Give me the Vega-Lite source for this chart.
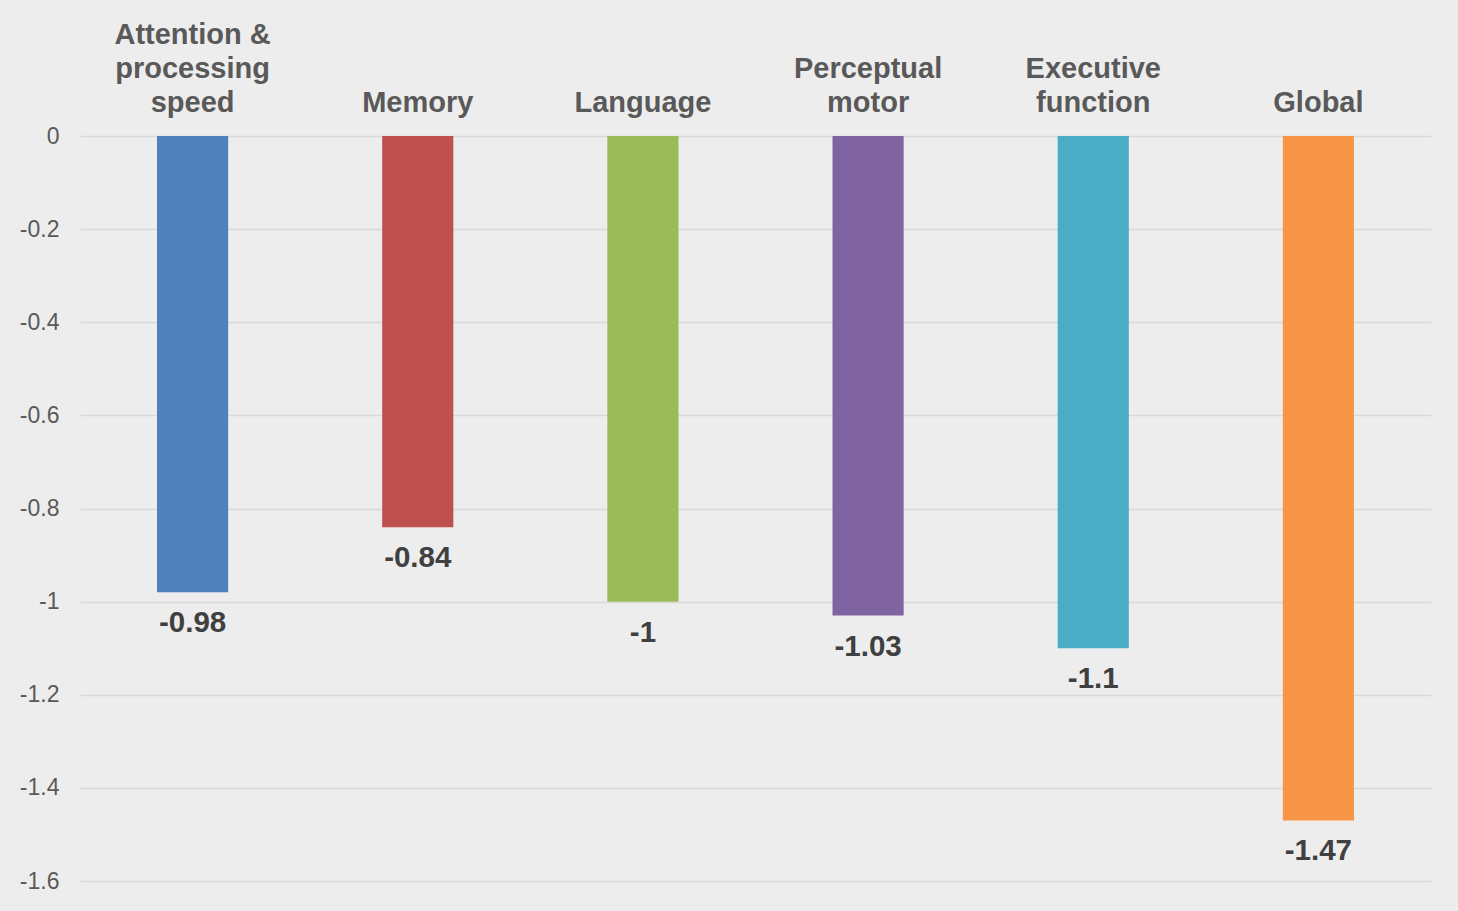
{
  "$schema": "https://vega.github.io/schema/vega-lite/v6.json",
  "autosize": {"type": "none"},
  "padding": {"left": 80, "top": 136, "right": 27, "bottom": 30},
  "width": 1351,
  "height": 745,
  "background": "#ededed",
  "data": {
    "values": [
      {"domain": "Attention & processing speed", "score": -0.98, "color": "#4f81bd"},
      {"domain": "Memory", "score": -0.84, "color": "#c0504d"},
      {"domain": "Language", "score": -1, "color": "#9bbb59"},
      {"domain": "Perceptual motor", "score": -1.03, "color": "#8064a2"},
      {"domain": "Executive function", "score": -1.1, "color": "#4bacc6"},
      {"domain": "Global", "score": -1.47, "color": "#f79646"}
    ]
  },
  "encoding": {
    "x": {
      "field": "domain",
      "type": "nominal",
      "sort": null,
      "scale": {"paddingInner": 0.684, "paddingOuter": 0.342},
      "axis": {
        "orient": "top",
        "title": null,
        "domain": false,
        "ticks": false,
        "labelAngle": 0,
        "labelFont": "Liberation Sans",
        "labelFontSize": 29,
        "labelFontWeight": "bold",
        "labelColor": "#595959",
        "labelLineHeight": 34,
        "labelBaseline": "bottom",
        "labelPadding": {
          "condition": [
            {"test": "datum.value == 'Attention & processing speed'", "value": 87},
            {"test": "datum.value == 'Perceptual motor' || datum.value == 'Executive function'", "value": 53}
          ],
          "value": 19
        },
        "labelLimit": 300,
        "labelOverlap": false,
        "labelExpr": "datum.value == 'Attention & processing speed' ? ['Attention &', 'processing', 'speed'] : datum.value == 'Perceptual motor' ? ['Perceptual', 'motor'] : datum.value == 'Executive function' ? ['Executive', 'function'] : datum.value"
      }
    },
    "y": {
      "field": "score",
      "type": "quantitative",
      "scale": {"domain": [-1.6, 0], "nice": false, "zero": false},
      "axis": {
        "title": null,
        "values": [0, -0.2, -0.4, -0.6, -0.8, -1, -1.2, -1.4, -1.6],
        "format": "~g",
        "domain": false,
        "ticks": false,
        "grid": true,
        "gridColor": "#d9d9d9",
        "gridWidth": 1.5,
        "labelFont": "Liberation Sans",
        "labelFontSize": 23,
        "labelColor": "#595959",
        "labelPadding": 21
      }
    }
  },
  "layer": [
    {
      "mark": {"type": "bar"},
      "encoding": {
        "y2": {"datum": 0},
        "color": {"field": "color", "type": "nominal", "scale": null, "legend": null}
      }
    },
    {
      "mark": {
        "type": "text",
        "baseline": "alphabetic",
        "dy": 40,
        "font": "Liberation Sans",
        "fontSize": 29.5,
        "fontWeight": "bold",
        "color": "#404040"
      },
      "encoding": {
        "text": {"field": "score", "type": "quantitative", "format": "~g"}
      }
    }
  ],
  "config": {
    "view": {"stroke": null},
    "locale": {
      "number": {
        "decimal": ".",
        "thousands": ",",
        "grouping": [3],
        "currency": ["$", ""],
        "minus": "-"
      }
    }
  }
}
